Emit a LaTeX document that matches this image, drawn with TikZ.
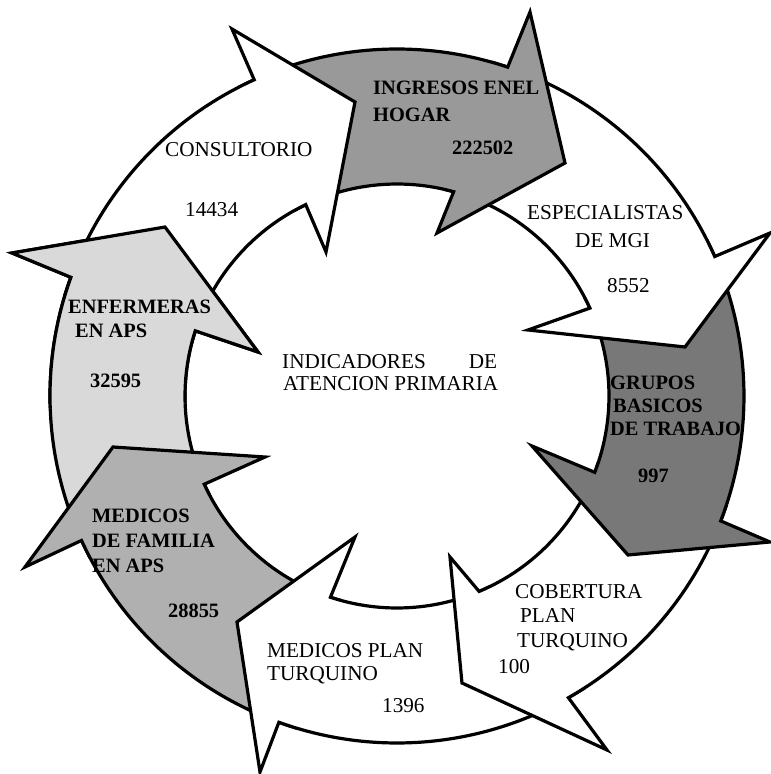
\documentclass[tikz,border=0pt]{standalone}
\usepackage{fontspec}
\setmainfont{Liberation Serif}
\definecolor{ingresos}{gray}{0.60}
\definecolor{grupos}{gray}{0.47}
\definecolor{familia}{gray}{0.69}
\definecolor{enfermeras}{gray}{0.85}
\tikzset{
  arrowshape/.style={draw=black, line width=3.2pt, line join=miter},
  lbl/.style={anchor=base west, inner sep=0pt, font=\fontsize{21.2}{23}\selectfont},
  blbl/.style={anchor=base west, inner sep=0pt, font=\fontsize{20.4}{23}\selectfont\bfseries},
}
% #1 tail outer angle, #2 tail inner angle, #3 notch outer angle, #4 notch inner angle,
% #5 outer barb, #6 tip, #7 inner barb, #8 fill colour
\newcommand{\ringarrow}[8]{%
  \path[arrowshape, fill=#8] (#1:347) arc[start angle=#1, end angle=#3, radius=347]
    -- #5 -- #6 -- #7 -- (#4:212) arc[start angle=#4, end angle=#2, radius=212] -- cycle;}
\begin{document}
\begin{tikzpicture}[x=1pt, y=1pt]
\fill[white] (-397,-378) rectangle (374,396);
\useasboundingbox (-397,-378) rectangle (374,396);
% draw order: each arrow head lies over the next arrow's tail
\ringarrow{207.5}{207.5}{160.0}{162.1}{(-385,143)}{(-232,169)}{(-139,44)}{enfermeras} % C8
\ringarrow{253}{254.5}{204.6}{204.6}{(-372,-171)}{(-284,-51)}{(-132,-61)}{familia} % C7
\ringarrow{-57.5}{-64.5}{-109.9}{-108.3}{(-137,-376)}{(-160,-226)}{(-42,-141)}{white} % C6
\ringarrow{-18.5}{-18.5}{-60.4}{-67.2}{(210,-354)}{(65,-287)}{(53,-161)}{white} % C5
\ringarrow{26.5}{27.5}{-21.1}{-21.1}{(373,-146)}{(231,-159)}{(135,-50)}{grupos} % C4
\ringarrow{74}{77}{23.7}{24.5}{(373,163)}{(288,49)}{(131,66)}{white} % C3
\ringarrow{117}{118.5}{71.4}{74.5}{(133,384)}{(168,233)}{(40,163)}{ingresos} % C2
\ringarrow{163}{165}{114.3}{115.5}{(-165,367)}{(-42,294)}{(-71,144)}{white} % C1
% redraw the head of C8 over the tail of C1
\begin{scope}
  \clip (0,0) -- (125:600) arc[start angle=125, end angle=182, radius=600] -- cycle;
  \ringarrow{207.5}{207.5}{160.0}{162.1}{(-385,143)}{(-232,169)}{(-139,44)}{enfermeras}
\end{scope}
% texts
\node[lbl]  (t1a) at (-232,239) {CONSULTORIO};
\node[lbl]  (t1b) at (-212,179) {14434};
\node[blbl] (t2a) at (-24,301) {INGRESOS ENEL};
\node[blbl] (t2b) at (-24,274) {HOGAR};
\node[blbl] (t2c) at (55,241) {222502};
\node[lbl]  (t3a) at (130,176) {ESPECIALISTAS};
\node[lbl]  (t3b) at (178,148) {DE MGI};
\node[lbl]  (t3c) at (210,104) {8552};
\node[blbl] (t4a) at (213,7) {GRUPOS};
\node[blbl] (t4b) at (216,-16) {BASICOS};
\node[blbl] (t4c) at (213,-39) {DE TRABAJO};
\node[blbl] (t4d) at (241,-86) {997};
\node[lbl]  (t5a) at (118,-202) {COBERTURA};
\node[lbl]  (t5b) at (123,-226) {PLAN};
\node[lbl]  (t5c) at (120,-251) {TURQUINO};
\node[lbl]  (t5d) at (101,-277) {100};
\node[lbl]  (t6a) at (-130,-261) {MEDICOS PLAN};
\node[lbl]  (t6b) at (-130,-284) {TURQUINO};
\node[lbl]  (t6c) at (-15,-316) {1396};
\node[blbl] (t7a) at (-305,-126) {MEDICOS};
\node[blbl] (t7b) at (-305,-151) {DE FAMILIA};
\node[blbl] (t7c) at (-305,-176) {EN APS};
\node[blbl] (t7d) at (-229,-221) {28855};
\node[blbl] (t8a) at (-329,83) {ENFERMERAS};
\node[blbl] (t8b) at (-322,59) {EN APS};
\node[blbl] (t8c) at (-307,9) {32595};
\node[lbl]  (c1) at (-115,28) {\hbox to 215pt{INDICADORES\hfill DE}};
\node[lbl]  (c2) at (-114,6) {ATENCION PRIMARIA};
\end{tikzpicture}
\end{document}
